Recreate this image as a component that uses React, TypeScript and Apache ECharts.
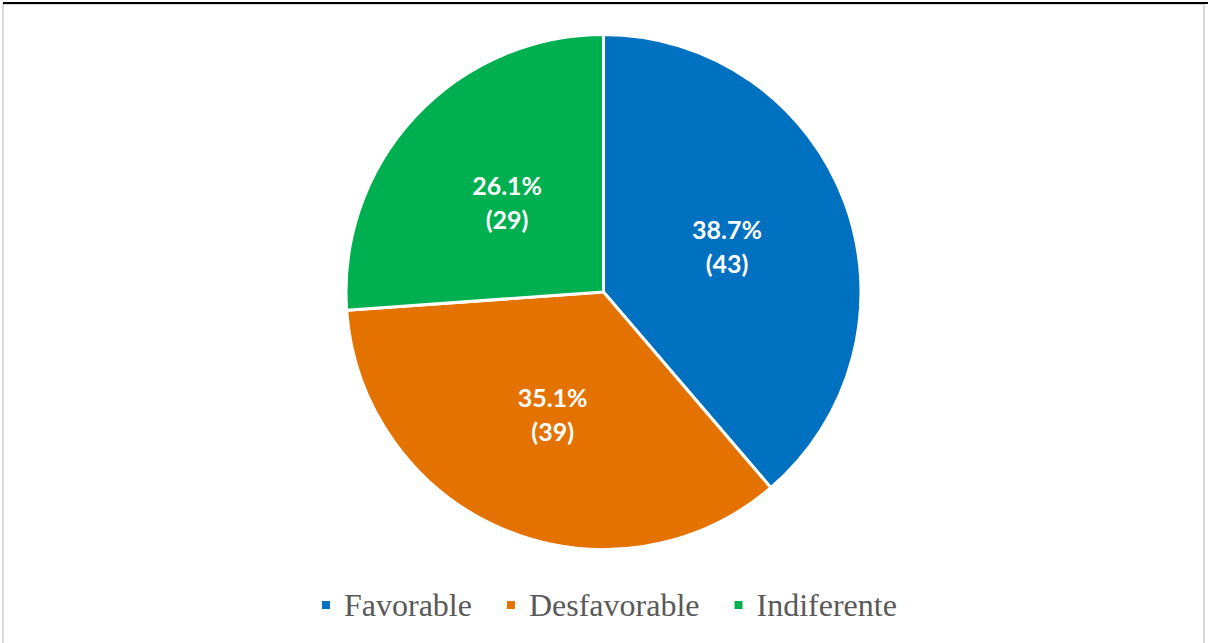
import React, { useEffect, useRef } from "react";
import * as echarts from "echarts";

const categories = ["Favorable", "Desfavorable", "Indiferente"];
const counts = [43, 39, 29];
const percents = ["38.7%", "35.1%", "26.1%"];
const colors = ["#0070C0", "#E47200", "#00B050"];

const legendFont = "'Liberation Serif', 'Times New Roman', serif";

export default function App() {
  const ref = useRef<HTMLDivElement>(null);
  useEffect(() => {
    if (!ref.current) return;
    const chart = echarts.init(ref.current, null, { renderer: "svg" });
    const data = categories.map((name, i) => ({
      name,
      value: counts[i],
      itemStyle: { color: colors[i] },
    }));
    chart.setOption({
      animation: false,
      backgroundColor: "#ffffff",
      graphic: [
        {
          type: "rect",
          shape: { x: 3, y: 4, width: 1201, height: 660 },
          style: { fill: "none", stroke: "#D9D9D9", lineWidth: 2 },
          silent: true,
        },
        {
          type: "rect",
          shape: { x: 3, y: 2, width: 1205, height: 2 },
          style: { fill: "#000000" },
          silent: true,
        },
      ],
      legend: {
        data: categories,
        left: 320,
        top: 589,
        padding: 0,
        icon: "rect",
        itemWidth: 10,
        itemHeight: 10,
        itemGap: 33,
        textStyle: {
          fontFamily: legendFont,
          fontSize: 32,
          color: "#595959",
          padding: [0, 0, 0, 8],
        },
      },
      series: [
        {
          type: "pie",
          center: [603.5, 292],
          radius: 257.5,
          startAngle: 90,
          clockwise: true,
          data,
          itemStyle: { borderColor: "#ffffff", borderWidth: 3 },
          label: {
            show: true,
            position: "inside",
            formatter: (p: any) => `${percents[p.dataIndex]}\n(${p.value})`,
            color: "#ffffff",
            fontFamily: "Lato",
            fontWeight: "bold",
            fontSize: 25,
            lineHeight: 34,
          },
          labelLine: { show: false },
          emphasis: { disabled: true },
        },
      ],
    });
    return () => chart.dispose();
  }, []);
  return (
    <div
      ref={ref}
      style={{ position: "fixed", left: 0, top: 0, width: 1208, height: 643 }}
    />
  );
}
